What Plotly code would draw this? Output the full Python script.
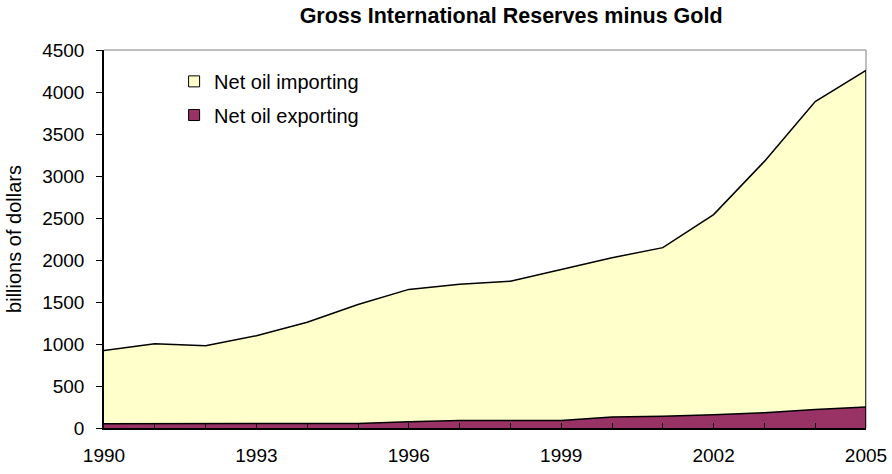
import plotly.graph_objects as go

years = list(range(1990, 2006))
net_oil_exporting = [50, 50, 50, 50, 50, 55, 75, 90, 88, 88, 131, 139, 159, 183, 219, 251]
net_oil_importing = [873, 953, 930, 1049, 1208, 1415, 1575, 1620, 1660, 1800, 1896, 2008, 2382, 2991, 3668, 4006]

tick_text = [str(y) if (y - 1990) % 3 == 0 else "" for y in years]
y_ticks = list(range(0, 4501, 500))

FONT = "Liberation Sans, Arial, sans-serif"
IMPORT_COLOR = "#FFFFCC"
EXPORT_COLOR = "#993366"

fig = go.Figure()
# stacked areas
fig.add_trace(go.Scatter(
    x=years, y=net_oil_exporting, name="Net oil exporting",
    mode="lines", stackgroup="s",
    line=dict(color="black", width=1.5),
    fillcolor=EXPORT_COLOR, showlegend=False,
))
fig.add_trace(go.Scatter(
    x=years, y=net_oil_importing, name="Net oil importing",
    mode="lines", stackgroup="s",
    line=dict(color="black", width=1.5),
    fillcolor=IMPORT_COLOR, showlegend=False,
))

# square legend swatches
fig.add_trace(go.Scatter(
    x=[None], y=[None], mode="markers", name="Net oil importing",
    marker=dict(symbol="square", size=11, color=IMPORT_COLOR,
                line=dict(color="black", width=1)),
    legend="legend",
))
fig.add_trace(go.Scatter(
    x=[None], y=[None], mode="markers", name="Net oil exporting",
    marker=dict(symbol="square", size=11, color=EXPORT_COLOR,
                line=dict(color="black", width=1)),
    legend="legend2",
))

legend_style = dict(
    bgcolor="rgba(0,0,0,0)", font=dict(family=FONT, size=20, color="black"),
    xanchor="left", yanchor="middle", itemwidth=30,
)

# closing edge of the stacked area at the last year
end_total = net_oil_exporting[-1] + net_oil_importing[-1]

fig.update_layout(
    width=892, height=474,
    margin=dict(l=104, r=26, t=50, b=46, autoexpand=False),
    paper_bgcolor="white", plot_bgcolor="white",
    font=dict(family=FONT, size=19, color="black"),
    title=dict(
        text="<b>Gross International Reserves minus Gold</b>",
        x=0.573, xanchor="center", y=0.968, yanchor="middle",
        font=dict(family=FONT, size=21.5, color="black"),
    ),
    showlegend=True,
    legend=dict(x=0.092, y=0.917, **legend_style),
    legend2=dict(x=0.092, y=0.828, **legend_style),
    xaxis=dict(
        range=[1990, 2005], tickmode="array", tickvals=years, ticktext=tick_text,
        ticks="inside", ticklen=5, tickcolor="black", tickwidth=1,
        showline=True, linecolor="black", linewidth=1.5, mirror=False,
        showgrid=False, zeroline=False, automargin=False,
        tickfont=dict(size=19), ticklabelstandoff=9,
    ),
    yaxis=dict(
        range=[0, 4500], tickmode="array", tickvals=y_ticks,
        ticks="outside", ticklen=6, tickcolor="black", tickwidth=1,
        showline=True, linecolor="black", linewidth=1.5,
        showgrid=False, zeroline=False, automargin=False,
        tickfont=dict(size=19), ticklabelstandoff=8,
        title=dict(text="billions of dollars", font=dict(size=20)),
    ),
    shapes=[
        dict(type="line", xref="paper", yref="paper", x0=0, x1=1, y0=1, y1=1,
             line=dict(color="#808080", width=1)),
        dict(type="line", xref="paper", yref="paper", x0=1, x1=1, y0=0, y1=1,
             line=dict(color="#808080", width=1), layer="below"),
        dict(type="line", xref="x", yref="y", x0=years[-1], x1=years[-1],
             y0=0, y1=end_total, line=dict(color="black", width=1.5)),
    ],
)

fig.write_html("out.html")
